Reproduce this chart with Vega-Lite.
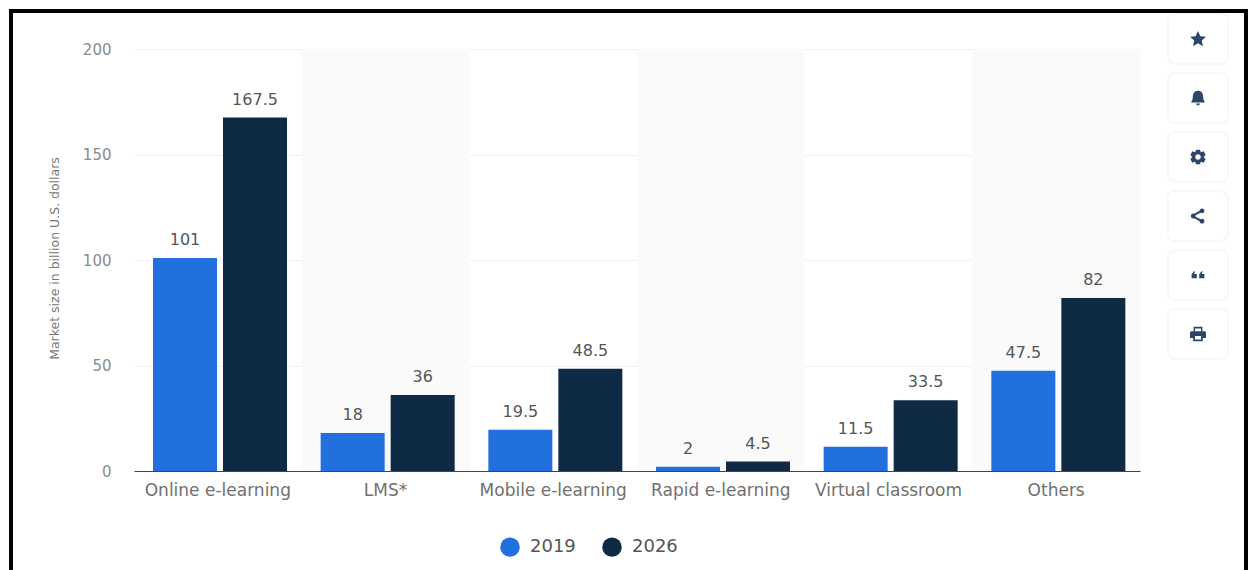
{
  "$schema": "https://vega.github.io/schema/vega-lite/v6.json",
  "width": 1235,
  "height": 570,
  "padding": {"left": 11, "top": 11, "right": 2, "bottom": 0},
  "autosize": "none",
  "background": "#ffffff",
  "view": {"stroke": "#000000", "strokeWidth": 4, "fill": "#ffffff"},
  "config": {"font": "DejaVu Sans"},
  "datasets": {
    "market": [
      {"segment": "Online e-learning", "year": "2019", "size": 101},
      {"segment": "Online e-learning", "year": "2026", "size": 167.5},
      {"segment": "LMS*", "year": "2019", "size": 18},
      {"segment": "LMS*", "year": "2026", "size": 36},
      {"segment": "Mobile e-learning", "year": "2019", "size": 19.5},
      {"segment": "Mobile e-learning", "year": "2026", "size": 48.5},
      {"segment": "Rapid e-learning", "year": "2019", "size": 2},
      {"segment": "Rapid e-learning", "year": "2026", "size": 4.5},
      {"segment": "Virtual classroom", "year": "2019", "size": 11.5},
      {"segment": "Virtual classroom", "year": "2026", "size": 33.5},
      {"segment": "Others", "year": "2019", "size": 47.5},
      {"segment": "Others", "year": "2026", "size": 82}
    ],
    "stripes": [
      {"segment": "LMS*"},
      {"segment": "Rapid e-learning"},
      {"segment": "Others"}
    ],
    "toolbar": [
      {"dock": "tools", "tool": "star"},
      {"dock": "tools", "tool": "bell"},
      {"dock": "tools", "tool": "gear"},
      {"dock": "tools", "tool": "share"},
      {"dock": "tools", "tool": "quote"},
      {"dock": "tools", "tool": "print"}
    ]
  },
  "layer": [
    {
      "encoding": {
        "x": {
          "field": "segment",
          "type": "nominal",
          "sort": ["Online e-learning", "LMS*", "Mobile e-learning", "Rapid e-learning", "Virtual classroom", "Others"],
          "scale": {
            "domain": ["Online e-learning", "LMS*", "Mobile e-learning", "Rapid e-learning", "Virtual classroom", "Others"],
            "range": [123, 1129],
            "paddingInner": 0,
            "paddingOuter": 0
          },
          "axis": {
            "title": null,
            "offset": -110,
            "labelAngle": 0,
            "labelFontSize": 17,
            "labelColor": "#707070",
            "labelPadding": 11,
            "ticks": false,
            "domainColor": "#3c4650",
            "domainWidth": 1.2,
            "grid": false
          }
        }
      },
      "layer": [
        {
          "data": {"name": "stripes"},
          "mark": {"type": "rect", "color": "#fafafb"},
          "encoding": {
            "y": {
              "datum": 200,
              "type": "quantitative",
              "scale": {"domain": [0, 200], "range": [460, 38], "nice": false},
              "axis": {
                "title": "Market size in billion U.S. dollars",
                "titleFontSize": 12.5,
                "titleFontWeight": "normal",
                "titleColor": "#777777",
                "titleX": -73,
                "titleY": 247,
                "titleAnchor": "middle",
                "offset": -123,
                "values": [0, 50, 100, 150, 200],
                "labelFontSize": 15,
                "labelColor": "#8a8a8a",
                "labelPadding": 23,
                "ticks": false,
                "domain": false,
                "grid": true,
                "gridColor": "#f0f0f2",
                "gridWidth": 1
              }
            },
            "y2": {"datum": 0}
          }
        },
        {
          "data": {"name": "market"},
          "mark": {"type": "bar", "width": 64},
          "encoding": {
            "xOffset": {
              "field": "year",
              "type": "nominal",
              "scale": {"range": [19, 153], "paddingInner": 0.0857, "paddingOuter": 0}
            },
            "y": {"field": "size", "type": "quantitative"},
            "color": {
              "field": "year",
              "type": "nominal",
              "scale": {"domain": ["2019", "2026"], "range": ["#2270dd", "#0f2a44"]},
              "legend": {
                "title": null,
                "orient": "none",
                "direction": "horizontal",
                "legendX": 489,
                "legendY": 526,
                "symbolType": "circle",
                "symbolSize": 380,
                "symbolStrokeWidth": 0,
                "labelFontSize": 18,
                "labelColor": "#555555",
                "labelOffset": 10,
                "columnPadding": 26
              }
            }
          }
        },
        {
          "data": {"name": "market"},
          "mark": {"type": "text", "dy": -18, "fontSize": 16, "color": "#555555", "baseline": "middle"},
          "encoding": {
            "xOffset": {"field": "year", "type": "nominal"},
            "y": {"field": "size", "type": "quantitative"},
            "text": {"field": "size", "type": "quantitative"}
          }
        }
      ]
    },
    {
      "data": {"name": "toolbar"},
      "encoding": {
        "x": {"field": "dock", "type": "nominal", "axis": null, "scale": {"type": "point", "padding": 0, "range": [1187, 1187]}},
        "y": {
          "field": "tool",
          "type": "nominal",
          "sort": null,
          "axis": null,
          "scale": {"type": "point", "padding": 0, "domain": ["star", "bell", "gear", "share", "quote", "print"], "range": [28, 323]}
        }
      },
      "layer": [
        {
          "mark": {"type": "rect", "width": 60, "height": 50, "cornerRadius": 7, "fill": "#ffffff", "stroke": "#f7f8fa", "strokeWidth": 2}
        },
        {
          "mark": {"type": "point", "filled": true, "opacity": 1, "size": 256, "color": "#2d4668"},
          "encoding": {
            "shape": {
              "field": "tool",
              "type": "nominal",
              "legend": null,
              "scale": {
                "domain": ["star", "bell", "gear", "share", "quote", "print"],
                "range": [
                  "M0,-1 L0.29,-0.35 L1,-0.28 L0.47,0.2 L0.62,0.9 L0,0.53 L-0.62,0.9 L-0.47,0.2 L-1,-0.28 L-0.29,-0.35 Z",
                  "M0,-0.9 C0.5,-0.9 0.65,-0.5 0.65,-0.1 C0.65,0.25 0.8,0.35 0.85,0.55 L-0.85,0.55 C-0.8,0.35 -0.65,0.25 -0.65,-0.1 C-0.65,-0.5 -0.5,-0.9 0,-0.9 Z M-0.25,0.68 L0.25,0.68 L0.15,0.9 L-0.15,0.9 Z",
                  "M-0.25,-0.9 L0.25,-0.9 L0.35,-0.6 L0.72,-0.72 L0.95,-0.25 L0.7,0 L0.95,0.25 L0.72,0.72 L0.35,0.6 L0.25,0.9 L-0.25,0.9 L-0.35,0.6 L-0.72,0.72 L-0.95,0.25 L-0.7,0 L-0.95,-0.25 L-0.72,-0.72 L-0.35,-0.6 Z M0,-0.35 A0.35,0.35 0 1,0 0,0.35 A0.35,0.35 0 1,0 0,-0.35 Z",
                  "M0.5,-0.95 A0.3,0.3 0 1,1 0.5,-0.35 L0.32,-0.42 L-0.3,-0.1 L-0.3,0.1 L0.32,0.42 L0.5,0.35 A0.3,0.3 0 1,1 0.2,0.65 L-0.42,0.3 L-0.6,0.3 A0.3,0.3 0 1,1 -0.6,-0.3 L-0.42,-0.3 L0.2,-0.65 A0.3,0.3 0 0,1 0.5,-0.95 Z",
                  "M-0.8,-0.05 L-0.55,-0.45 L-0.35,-0.45 L-0.5,-0.12 L-0.15,-0.12 L-0.15,0.4 L-0.8,0.4 Z M0.15,-0.05 L0.4,-0.45 L0.6,-0.45 L0.45,-0.12 L0.8,-0.12 L0.8,0.4 L0.15,0.4 Z",
                  "M-0.55,-0.9 L0.55,-0.9 L0.55,-0.35 L0.85,-0.35 C0.95,-0.35 1,-0.25 1,-0.15 L1,0.5 L0.6,0.5 L0.6,0.9 L-0.6,0.9 L-0.6,0.5 L-1,0.5 L-1,-0.15 C-1,-0.25 -0.95,-0.35 -0.85,-0.35 L-0.55,-0.35 Z M-0.38,-0.7 L-0.38,-0.35 L0.38,-0.35 L0.38,-0.7 Z M-0.38,0.25 L-0.38,0.7 L0.38,0.7 L0.38,0.25 Z"
                ]
              }
            }
          }
        }
      ]
    }
  ],
  "resolve": {"scale": {"x": "independent", "y": "independent"}, "axis": {"x": "independent", "y": "independent"}}
}
